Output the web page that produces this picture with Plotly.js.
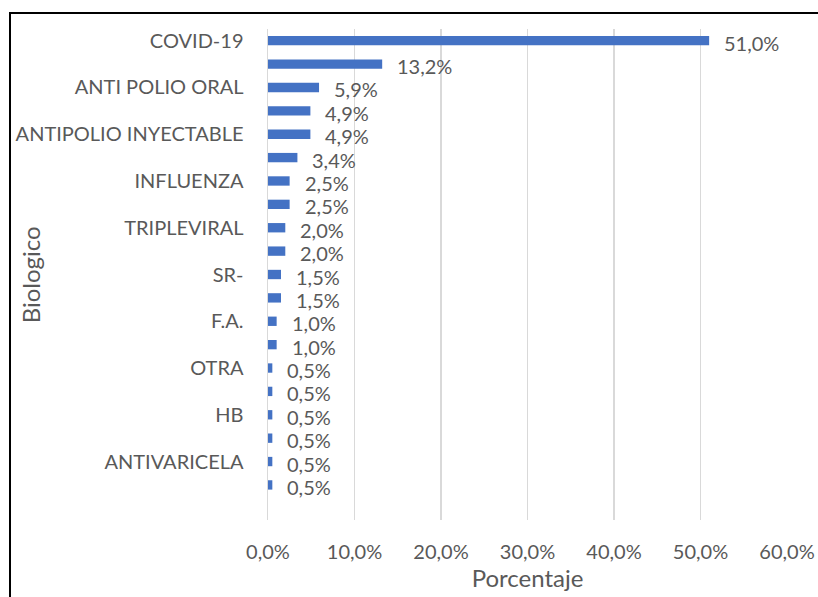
<!DOCTYPE html>
<html>
<head>
<meta charset="utf-8">
<script src="https://cdn.plot.ly/plotly-3.0.1.min.js"></script>
<style>
html,body{margin:0;padding:0;background:#fff;}
#chart{position:absolute;left:0;top:0;width:818px;height:597px;}
#frame{position:absolute;left:9px;top:12px;width:830px;height:620px;border:2px solid #000;pointer-events:none;}
</style>
</head>
<body>
<div id="chart"></div>
<div id="frame"></div>
<script>
// Categories top to bottom; unlabeled ones in the reference get placeholder names
const categories = [
  "COVID-19", "(sin etiqueta 1)", "ANTI POLIO ORAL", "(sin etiqueta 2)",
  "ANTIPOLIO INYECTABLE", "(sin etiqueta 3)", "INFLUENZA", "(sin etiqueta 4)",
  "TRIPLEVIRAL", "(sin etiqueta 5)", "SR-", "(sin etiqueta 6)",
  "F.A.", "(sin etiqueta 7)", "OTRA", "(sin etiqueta 8)",
  "HB", "(sin etiqueta 9)", "ANTIVARICELA", "(sin etiqueta 10)"
];
const values = [0.510, 0.132, 0.059, 0.049, 0.049, 0.034, 0.025, 0.025, 0.020, 0.020,
                0.015, 0.015, 0.010, 0.010, 0.005, 0.005, 0.005, 0.005, 0.005, 0.005];
const tickLabels = ["COVID-19", "ANTI POLIO ORAL", "ANTIPOLIO INYECTABLE", "INFLUENZA",
                    "TRIPLEVIRAL", "SR-", "F.A.", "OTRA", "HB", "ANTIVARICELA"];
const xTicks = [0, 0.1, 0.2, 0.3, 0.4, 0.5, 0.6];

const FONT = "Lato, 'Open Sans', sans-serif";
const GREY = "#595959";

function pct(v) { return (v * 100).toFixed(1).replace(".", ",") + "%"; }

const trace = {
  type: "bar",
  orientation: "h",
  y: categories,
  x: values,
  marker: {color: "#4472C4"},
  width: 0.4,
  hoverinfo: "x+y"
};

const valueLabels = categories.map((c, i) => ({
  x: values[i], y: c, xref: "x", yref: "y",
  text: pct(values[i]),
  showarrow: false, xanchor: "left", yanchor: "middle",
  xshift: 13, yshift: -2,
  font: {family: FONT, size: 20, color: GREY}
}));

const yTitle = {
  text: "Biologico", textangle: -90,
  xref: "paper", yref: "paper", x: -0.457, y: 0.5,
  xanchor: "center", yanchor: "middle", showarrow: false,
  font: {family: FONT, size: 24, color: GREY}
};

const layout = {
  width: 818, height: 597,
  margin: {l: 268, r: 31, t: 29, b: 77},
  paper_bgcolor: "#fff", plot_bgcolor: "#fff",
  separators: ",.",
  showlegend: false,
  font: {family: FONT, size: 20, color: GREY},
  xaxis: {
    range: [0, 0.6],
    tickvals: xTicks,
    tickformat: ".1%",
    showgrid: true, gridcolor: "#d9d9d9", gridwidth: 1.5,
    zeroline: false, showline: false,
    ticks: "", ticklabelstandoff: 18,
    tickfont: {family: FONT, size: 20, color: GREY},
    title: {text: "Porcentaje", font: {family: FONT, size: 24, color: GREY}, standoff: 8}
  },
  yaxis: {
    type: "category",
    categoryorder: "array",
    categoryarray: categories,
    range: [20.5, -0.5],
    tickvals: tickLabels,
    ticktext: tickLabels,
    showline: true, linecolor: "#d9d9d9", linewidth: 1.5,
    showgrid: false, zeroline: false,
    ticks: "", ticklabelstandoff: 19,
    tickfont: {family: FONT, size: 20, color: GREY}
  },
  annotations: valueLabels.concat([yTitle])
};

Plotly.newPlot("chart", [trace], layout, {displayModeBar: false, staticPlot: true});
</script>
</body>
</html>
